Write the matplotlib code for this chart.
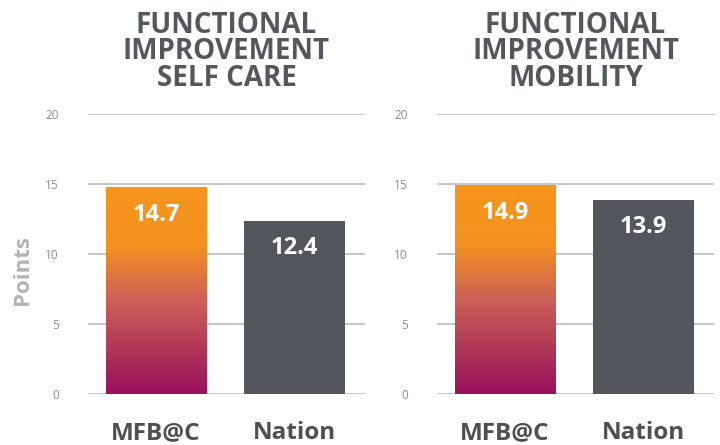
import numpy as np
import matplotlib.pyplot as plt
from matplotlib.colors import LinearSegmentedColormap

plt.rcParams['font.family'] = ['Open Sans', 'DejaVu Sans']

categories = ['MFB@C', 'Nation']
titles = ['FUNCTIONAL\nIMPROVEMENT\nSELF CARE', 'FUNCTIONAL\nIMPROVEMENT\nMOBILITY']
self_care = [14.7, 12.4]
mobility = [14.9, 13.9]
yticks = [0, 5, 10, 15, 20]

DARK = '#53565d'
TEXT = '#54575e'
grad = LinearSegmentedColormap.from_list(
    'mfb', [(0.0, '#9a0f5d'), (0.2, '#ad3558'), (0.45, '#cc5f57'),
            (0.72, '#f3921f'), (1.0, '#f7961d')])

fig = plt.figure(figsize=(7.2, 4.45), dpi=100)
axes = [fig.add_axes([0.1222, 0.1135, 0.3847, 0.6303]),
        fig.add_axes([0.607, 0.1135, 0.3847, 0.6303])]

width = 0.725
for ax, vals, title in zip(axes, [self_care, mobility], titles):
    x = np.arange(len(categories))
    # gradient bar for MFB@C, flat grey for Nation
    img = np.linspace(0, 1, 256).reshape(-1, 1)
    ax.imshow(img, cmap=grad, origin='lower', aspect='auto', zorder=2,
              extent=(x[0] - width / 2, x[0] + width / 2, 0, vals[0]))
    ax.bar(x[1], vals[1], width=width, color=DARK, zorder=2)
    ax.set_xlim(-0.49, 1.51)
    ax.set_ylim(0, 20)
    for xi, v in zip(x, vals):
        ax.text(xi, v - 2.36, f'{v}', ha='center', va='baseline',
                color='white', fontsize=17, fontweight='bold', zorder=3)

    ax.set_yticks(yticks)
    ax.set_xticks(x)
    ax.set_xticklabels(categories, fontsize=17.5, fontweight='bold', color='#4d4f55')
    ax.tick_params(axis='x', length=0, pad=19)
    ax.tick_params(axis='y', length=0, pad=21, labelsize=8.5, labelcolor='#8c8c8c')
    ax.grid(axis='y', color='#c6c6c6', linewidth=1.4, zorder=0)
    ax.set_axisbelow(True)
    for s in ax.spines.values():
        s.set_visible(False)

    ax.set_title(title, fontsize=20, fontweight='bold', color=TEXT,
                 linespacing=0.9, pad=20)

fig.text(0.031, 0.393, 'Points', rotation=90, ha='center', va='center',
         fontsize=16, fontweight='bold', color='#b3b3b3')

fig.savefig('out.png', dpi=100)
